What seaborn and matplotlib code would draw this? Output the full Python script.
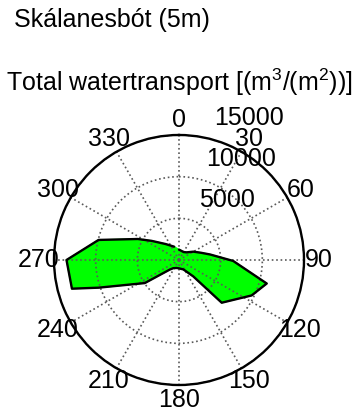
import numpy as np
import pandas as pd
import matplotlib
matplotlib.use('Agg')
import matplotlib.pyplot as plt
import matplotlib.transforms as mtransforms
import seaborn as sns

# direction (deg, clockwise from north) and total transport
direction = [0, 30, 45, 60, 72, 80, 91, 105, 116, 135, 139, 155, 180, 197,
             215, 224, 236, 251, 255, 270, 284, 297, 305, 320, 340]
transport = [1250, 1100, 1300, 2000, 2800, 3800, 6500, 10900, 9700, 7250, 2600, 1250, 1000, 1000,
             1200, 1600, 4950, 10200, 13300, 13500, 9950, 5550, 4000, 2500, 1700]

ring_ticks = [5000, 10000, 15000]
angle_ticks = list(range(0, 360, 30))

title = 'Skálanesbót (5m)'
subtitle = 'Total watertransport [(m$^3$/(m$^2$))]'

sns.set_theme(style='white')
plt.rcParams['font.family'] = ['Liberation Sans', 'DejaVu Sans']
plt.rcParams['mathtext.fontset'] = 'custom'
plt.rcParams['mathtext.rm'] = 'Liberation Sans'
plt.rcParams['mathtext.it'] = 'Liberation Sans'
plt.rcParams['text.color'] = 'black'

fs = 18
W, H = 357, 413
fig = plt.figure(figsize=(W / 100, H / 100), dpi=100)
cx, cy, R = 179, 260, 125
ax = fig.add_axes([(cx - R) / W, (H - cy - R) / H, 2 * R / W, 2 * R / H], projection='polar')
ax.set_theta_zero_location('N')
ax.set_theta_direction(-1)
ax.set_ylim(0, ring_ticks[-1])

df = pd.DataFrame({'theta': np.deg2rad(direction + direction[:1]),
                   'r': transport + transport[:1]})
ax.fill(df['theta'], df['r'], color='#00ff00', zorder=2)
sns.lineplot(data=df, x='theta', y='r', sort=False, color='black', lw=1.7, ax=ax, zorder=3)

ax.set_xticks(np.deg2rad(angle_ticks))
ax.set_xticklabels([])
ax.set_yticks(ring_ticks)
ax.set_yticklabels([])
ax.set_xlabel('')
ax.set_ylabel('')
ax.grid(True, linestyle=':', color='0.35', lw=1.2, zorder=4)
ax.set_axisbelow(False)
ax.spines['polar'].set_color('black')
ax.spines['polar'].set_linewidth(1.7)
ax.spines['polar'].set_zorder(5)

for a in angle_ticks:
    ax.text(np.deg2rad(a), ring_ticks[-1] * 1.12, str(a), ha='center', va='center',
            fontsize=fs, clip_on=False, zorder=6)

off = mtransforms.offset_copy(ax.transData, fig=fig, x=13, y=19, units='dots')
for r in ring_ticks:
    ax.text(np.deg2rad(10), r, str(r), ha='left', va='center', fontsize=fs,
            transform=off, clip_on=False, zorder=6)

fig.text(14 / W, 1 - 27 / H, title, ha='left', va='baseline', fontsize=fs)
fig.text(179 / W, 1 - 91.5 / H, subtitle, ha='center', va='baseline', fontsize=fs)

fig.savefig('out.png', dpi=100)
